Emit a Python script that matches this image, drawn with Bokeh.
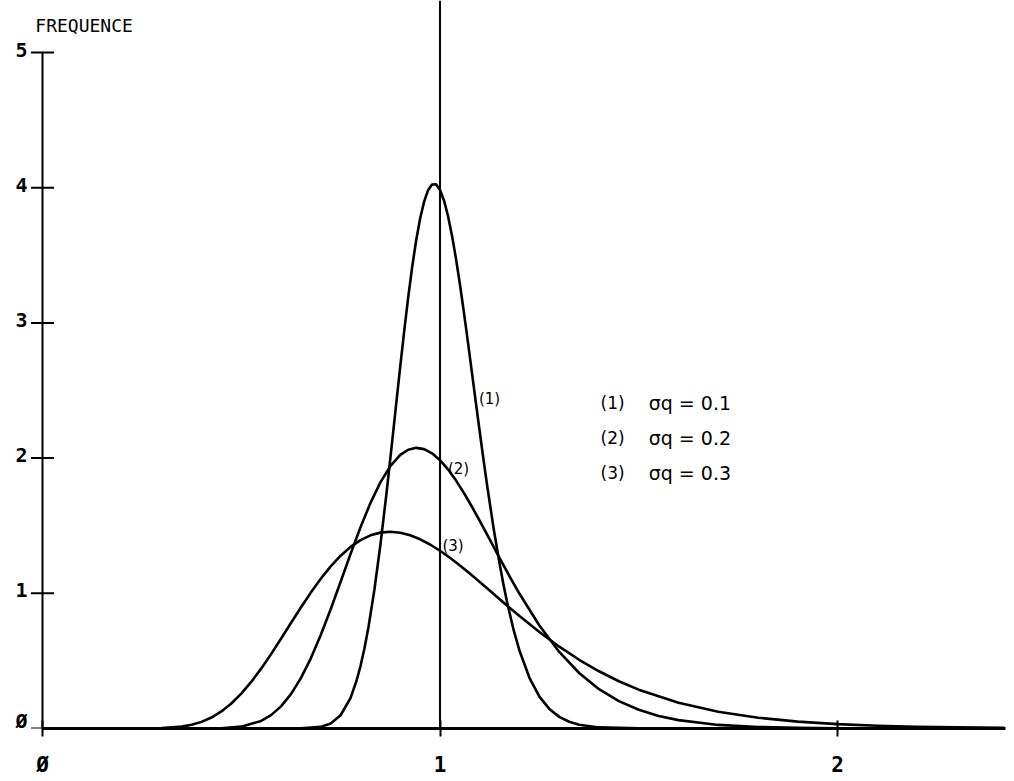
from bokeh.plotting import figure
from bokeh.models import Range1d, FixedTicker
from bokeh.core.properties import value
from bokeh.embed import file_html
from bokeh.resources import INLINE

# Curve (1): sigma_q = 0.1
x1 = [0.0, 0.65, 0.70, 0.725, 0.75, 0.775, 0.79, 0.80, 0.81, 0.82, 0.835, 0.85, 0.865, 0.88, 0.89, 0.90,
      0.91, 0.92, 0.93, 0.94, 0.95, 0.96, 0.97, 0.98, 0.99, 1.00, 1.01, 1.02, 1.03, 1.04, 1.05, 1.06,
      1.07, 1.08, 1.09, 1.10, 1.11, 1.12, 1.135, 1.15, 1.16, 1.17, 1.185, 1.20, 1.225, 1.25, 1.275,
      1.30, 1.325, 1.35, 1.40, 1.50, 2.42]
y1 = [0.0, 0.001, 0.012, 0.037, 0.098, 0.227, 0.353, 0.462, 0.594, 0.749, 1.027, 1.357, 1.730, 2.132,
      2.407, 2.679, 2.942, 3.189, 3.414, 3.610, 3.773, 3.897, 3.982, 4.024, 4.025, 3.984, 3.906, 3.793,
      3.649, 3.479, 3.288, 3.081, 2.863, 2.640, 2.415, 2.193, 1.976, 1.769, 1.478, 1.217, 1.060, 0.918,
      0.731, 0.575, 0.375, 0.236, 0.145, 0.086, 0.050, 0.028, 0.008, 0.001, 0.0]

# Curve (2): sigma_q = 0.2
x2 = [0.0, 0.40, 0.45, 0.50, 0.55, 0.575, 0.60, 0.625, 0.65, 0.675, 0.70, 0.725, 0.75, 0.775, 0.80,
      0.825, 0.85, 0.875, 0.90, 0.92, 0.94, 0.96, 0.98, 1.00, 1.02, 1.04, 1.06, 1.08, 1.10, 1.125,
      1.15, 1.175, 1.20, 1.25, 1.30, 1.35, 1.40, 1.45, 1.50, 1.55, 1.60, 1.70, 1.80, 1.90, 2.00, 2.20, 2.42]
y2 = [0.0, 0.0002, 0.0023, 0.0138, 0.0558, 0.0990, 0.1637, 0.2539, 0.3724, 0.5188, 0.6910, 0.8827,
      1.0860, 1.2914, 1.4886, 1.6679, 1.8205, 1.9405, 2.0234, 2.0620, 2.0760, 2.0666, 2.0354, 1.9848,
      1.9173, 1.8357, 1.7431, 1.6422, 1.5357, 1.3985, 1.2607, 1.1259, 0.9965, 0.7621, 0.5664, 0.4105,
      0.2910, 0.2024, 0.1384, 0.0932, 0.0620, 0.0265, 0.0109, 0.0044, 0.0017, 0.0003, 0.0]

# Curve (3): sigma_q = 0.3
x3 = [0.0, 0.30, 0.35, 0.375, 0.40, 0.425, 0.45, 0.475, 0.50, 0.525, 0.55, 0.575, 0.60, 0.625, 0.65,
      0.675, 0.70, 0.725, 0.75, 0.775, 0.80, 0.825, 0.85, 0.875, 0.90, 0.925, 0.95, 0.975, 1.00, 1.025,
      1.05, 1.075, 1.10, 1.125, 1.15, 1.175, 1.20, 1.25, 1.30, 1.35, 1.40, 1.45, 1.50, 1.60, 1.70, 1.80,
      1.90, 2.00, 2.10, 2.20, 2.30, 2.42]
y3 = [0.0, 0.0025, 0.0139, 0.0273, 0.0490, 0.0812, 0.1261, 0.1848, 0.2578, 0.3443, 0.4427, 0.5502,
      0.6639, 0.7800, 0.8950, 1.0052, 1.1075, 1.1991, 1.2783, 1.3434, 1.3936, 1.4287, 1.4489, 1.4550,
      1.4480, 1.4290, 1.3995, 1.3610, 1.3149, 1.2628, 1.2061, 1.1460, 1.0837, 1.0202, 0.9566, 0.8935,
      0.8316, 0.7136, 0.6052, 0.5083, 0.4232, 0.3497, 0.2872, 0.1904, 0.1241, 0.0799, 0.0509, 0.0322,
      0.0203, 0.0127, 0.0080, 0.0046]

x_ticks = [0, 1, 2]
x_tick_labels = ["Ø", "1", "2"]
y_ticks = [0, 1, 2, 3, 4, 5]
y_tick_labels = ["Ø", "1", "2", "3", "4", "5"]

curve_tags = ["(1)", "(2)", "(3)"]
tag_x = [1.098, 1.020, 1.006]
tag_y = [2.44, 1.92, 1.35]

legend_ids = ["(1)", "(2)", "(3)"]
legend_texts = ["σq = 0.1", "σq = 0.2", "σq = 0.3"]
legend_x_id = 1.404
legend_x_txt = 1.525
legend_y = [2.41, 2.15, 1.89]

y_title = "FREQUENCE"
y_title_x = -0.018
y_title_y = 5.20

ref_x = 1.0

p = figure(width=1014, height=781, output_backend="svg", toolbar_location=None,
           x_range=Range1d(-0.10566, 2.4226), y_range=Range1d(0, 5.385),
           y_axis_location=None,
           min_border_left=0, min_border_right=9, min_border_top=0, min_border_bottom=53)
p.outline_line_color = None
p.grid.visible = False
p.background_fill_color = "white"
p.border_fill_color = "white"

# x axis (library axis)
p.xaxis.ticker = FixedTicker(ticks=x_ticks)
p.xaxis.major_label_overrides = {t: l for t, l in zip(x_ticks, x_tick_labels)}
p.xaxis.bounds = (0, 2.4226)
p.xaxis.major_tick_in = 8
p.xaxis.major_tick_out = 8
p.xaxis.minor_tick_line_color = None
p.xaxis.axis_line_width = 3
p.xaxis.major_tick_line_width = 2
p.xaxis.major_label_text_font = "DejaVu Sans Mono"
p.xaxis.major_label_text_font_style = "bold"
p.xaxis.major_label_text_font_size = "21px"
p.xaxis.major_label_text_color = "black"
p.xaxis.major_label_standoff = 16

# y axis drawn at x = 0 from the tick arrays
p.line([0, 0], [y_ticks[0], y_ticks[-1]], line_color="black", line_width=2)
p.scatter([0] * len(y_ticks), y_ticks, marker="dash", size=23, line_color="black", line_width=2)
p.text([0] * len(y_ticks), y_ticks, text=y_tick_labels, x_offset=-15, y_offset=4,
       text_font=value("DejaVu Sans Mono"), text_font_style="bold", text_font_size="20px",
       text_align="right", text_baseline="bottom", text_color="black")

# vertical reference line at x = 1
p.line([ref_x, ref_x], [0, 5.385], line_color="black", line_width=2)

for xs, ys in [(x1, y1), (x2, y2), (x3, y3)]:
    p.line(xs, ys, line_color="black", line_width=2.6, line_join="round")

p.text(tag_x, tag_y, text=curve_tags, text_font=value("DejaVu Sans"), text_font_size="15px",
       text_baseline="middle", text_align="left", text_color="black")

p.text([legend_x_id] * 3, legend_y, text=legend_ids, text_font=value("DejaVu Sans"),
       text_font_size="17px", text_baseline="middle", text_align="left", text_color="black")
p.text([legend_x_txt] * 3, legend_y, text=legend_texts, text_font=value("DejaVu Sans"),
       text_font_size="19px", text_baseline="middle", text_align="left", text_color="black")

p.text([y_title_x], [y_title_y], text=[y_title], text_font=value("DejaVu Sans Mono"),
       text_font_size="18px", text_baseline="middle", text_align="left", text_color="black")

open("out.html", "w").write(file_html(p, INLINE))
